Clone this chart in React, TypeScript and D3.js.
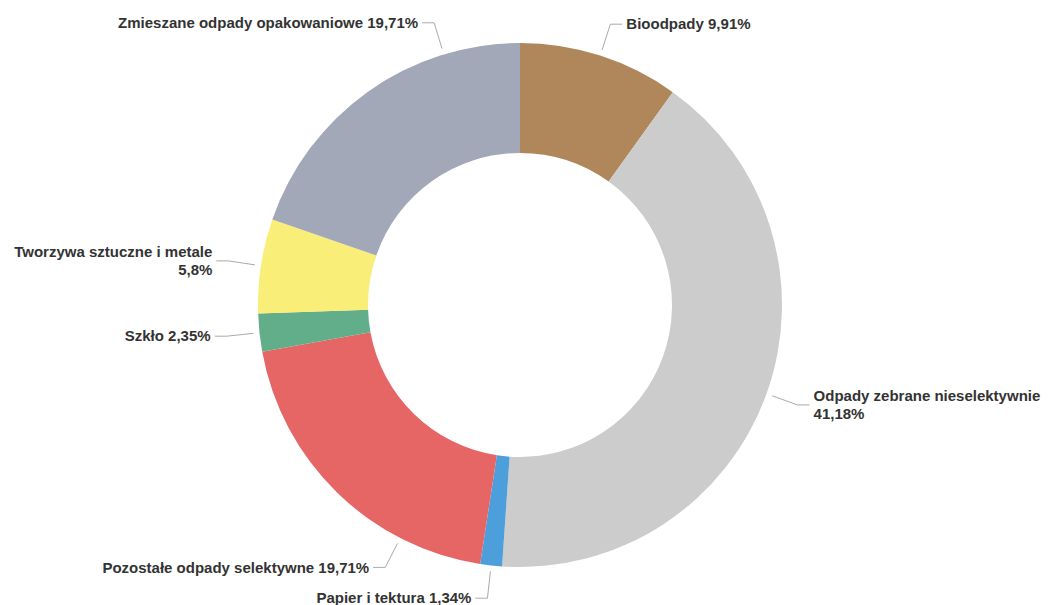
import React from "react";
import * as d3 from "d3";

const categories = [
  "Bioodpady",
  "Odpady zebrane nieselektywnie",
  "Papier i tektura",
  "Pozostałe odpady selektywne",
  "Szkło",
  "Tworzywa sztuczne i metale",
  "Zmieszane odpady opakowaniowe",
];
const values = [9.91, 41.18, 1.34, 19.71, 2.35, 5.8, 19.71];
const valueLabels = ["9,91%", "41,18%", "1,34%", "19,71%", "2,35%", "5,8%", "19,71%"];
const colors = ["#b0875b", "#cccccc", "#4c9fdb", "#e66666", "#63ae8a", "#f8ee78", "#a3a8b9"];
// label line breaks (true = value on second line)
const twoLine = [false, true, false, false, false, true, false];
// vertical label shifts (layout, px) applied by the label collision layout
const labelShift = [0, 0, 0, 51, 0, 0, -42];

const W = 1048;
const H = 605;
const cx = 520;
const cy = 305;
const rOuter = 262;
const rInner = 152;

export default function App() {
  const pie = d3.pie<number>().sort(null).value((d) => d)(values);
  const arc = d3.arc<d3.PieArcDatum<number>>().innerRadius(rInner).outerRadius(rOuter);
  const R1 = rOuter + 6;
  const R2 = rOuter + 33;

  const labels = pie.map((p, i) => {
    const mid = (p.startAngle + p.endAngle) / 2;
    const right = mid < Math.PI;
    const natY = -R2 * Math.cos(mid) + labelShift[i];
    const c = Math.max(-1, Math.min(1, -natY / R2));
    let th = Math.acos(c);
    if (!right) th = 2 * Math.PI - th;
    const sx = R1 * Math.sin(th);
    const sy = -R1 * Math.cos(th);
    const ex = R2 * Math.sin(th);
    const ey = -R2 * Math.cos(th);
    const hx = ex + (right ? 12 : -12);
    const tx = hx + (right ? 4 : -4);
    return { i, right, sx, sy, ex, ey, hx, tx, ty: ey };
  });

  return (
    <svg
      width={W}
      height={H}
      style={{ position: "absolute", left: 0, top: 0, background: "#ffffff" }}
      fontFamily="'Liberation Sans', Arial, sans-serif"
    >
      <g transform={`translate(${cx},${cy})`}>
        {pie.map((p, i) => (
          <path key={i} d={arc(p) || ""} fill={colors[i]} />
        ))}
        {labels.map((l) => (
          <g key={l.i}>
            <polyline
              points={`${l.sx},${l.sy} ${l.ex},${l.ey} ${l.hx},${l.ey}`}
              fill="none"
              stroke="#aaaaaa"
              strokeWidth={1}
            />
            {twoLine[l.i] ? (
              <text
                x={l.tx}
                y={l.ty}
                textAnchor={l.right ? "start" : "end"}
                fontSize={15}
                fontWeight="bold"
                fill="#333333"
              >
                <tspan x={l.tx} dy="-0.25em">{categories[l.i]}</tspan>
                <tspan x={l.tx} dy="1.2em">{valueLabels[l.i]}</tspan>
              </text>
            ) : (
              <text
                x={l.tx}
                y={l.ty}
                dy="0.35em"
                textAnchor={l.right ? "start" : "end"}
                fontSize={15}
                fontWeight="bold"
                fill="#333333"
              >
                {categories[l.i] + " " + valueLabels[l.i]}
              </text>
            )}
          </g>
        ))}
      </g>
    </svg>
  );
}
